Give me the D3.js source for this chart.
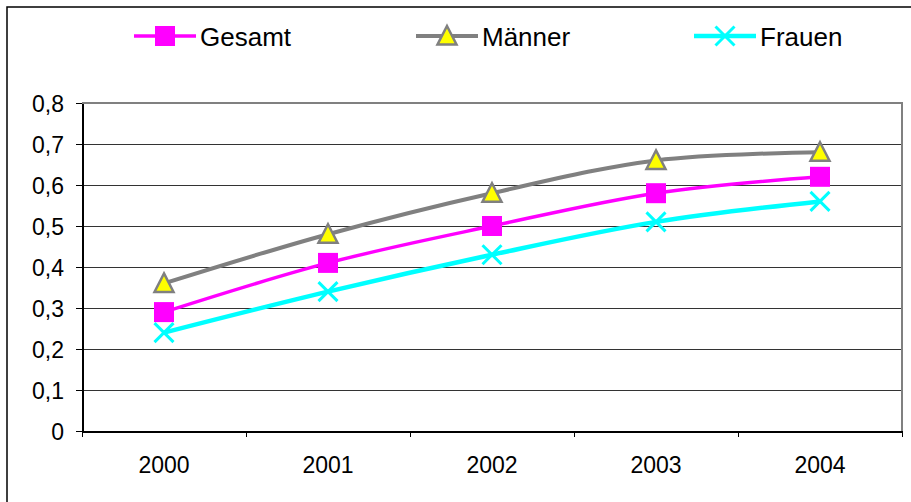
<!DOCTYPE html>
<html lang="de">
<head>
<meta charset="utf-8">
<title>Gesamt / Männer / Frauen 2000-2004</title>
<script src="https://cdnjs.cloudflare.com/ajax/libs/d3/7.8.5/d3.min.js"></script>
<style>
  body { margin: 0; background: #fff; }
  svg { display: block; font-family: 'Liberation Sans', Arial, sans-serif; }
  .grid line { stroke: #333; stroke-width: 1; shape-rendering: crispEdges; }
  .axis text { font-size: 23px; fill: #000; }
  .axis line, .axis path { stroke: #000; shape-rendering: crispEdges; }
  .legend text { font-size: 26px; fill: #000; }
</style>
</head>
<body>
<svg width="911" height="502"></svg>
<script>
// values
var years = ["2000", "2001", "2002", "2003", "2004"];
var gesamt = [0.29, 0.41, 0.50, 0.58, 0.62];
var maenner = [0.36, 0.48, 0.58, 0.66, 0.68];
var frauen = [0.24, 0.34, 0.43, 0.51, 0.56];
var yTicks = [0, 0.1, 0.2, 0.3, 0.4, 0.5, 0.6, 0.7, 0.8];

var series = [
  { name: "Gesamt", values: gesamt, color: "#ff00ff", width: 3.5, marker: "square" },
  { name: "Männer", values: maenner, color: "#808080", width: 4, marker: "triangle" },
  { name: "Frauen", values: frauen, color: "#00ffff", width: 4.5, marker: "cross" }
];

var svg = d3.select("svg");
// plot area (note: "top" is taken by window.top, so use other names)
var plotLeft = 82, plotRight = 902, plotTop = 103, plotBottom = 431;

// outer frame (right and bottom edges fall outside the picture)
svg.append("rect")
  .attr("x", 7).attr("y", 7)
  .attr("width", 920).attr("height", 520)
  .attr("fill", "none").attr("stroke", "#000").attr("stroke-width", 1.5);

var x = d3.scaleBand().domain(years).range([plotLeft, plotRight]).padding(0);
var xEdge = d3.scaleLinear().domain([0, years.length]).range([plotLeft, plotRight]);
var y = d3.scaleLinear().domain([0, 0.8]).range([plotBottom, plotTop]);

// gridlines
svg.append("g").attr("class", "grid")
  .selectAll("line")
  .data(yTicks.filter(function(d) { return d > 0 && d < 0.8; }))
  .enter().append("line")
    .attr("x1", plotLeft).attr("x2", plotRight)
    .attr("y1", function(d) { return y(d); })
    .attr("y2", function(d) { return y(d); });

// plot area top and right border
svg.append("path")
  .attr("d", "M" + plotLeft + "," + y(0.8) + "H" + plotRight + "V" + plotBottom)
  .attr("fill", "none").attr("stroke", "#808080").attr("stroke-width", 2);

// y axis
var yAxis = d3.axisLeft(y)
  .tickValues(yTicks)
  .tickSize(6)
  .tickSizeOuter(0)
  .tickPadding(12)
  .tickFormat(function(d) { return d === 0 ? "0" : d3.format(".1f")(d).replace(".", ","); });

svg.append("g").attr("class", "axis")
  .attr("transform", "translate(" + plotLeft + ",0)")
  .call(yAxis)
  .call(function(g) { g.select(".domain").attr("stroke-width", 2); })
  .call(function(g) { g.selectAll("text").attr("dy", "0.36em"); });

// x axis: ticks on category edges, labels in the middle
svg.append("g").attr("class", "axis")
  .attr("transform", "translate(0," + plotBottom + ")")
  .call(d3.axisBottom(xEdge).ticks(years.length).tickSize(6).tickSizeOuter(0).tickFormat(""))
  .call(function(g) { g.select(".domain").attr("stroke-width", 2); });

svg.append("g").attr("class", "axis")
  .selectAll("text")
  .data(years)
  .enter().append("text")
    .attr("x", function(d) { return x(d) + x.bandwidth() / 2; })
    .attr("y", 473)
    .attr("text-anchor", "middle")
    .text(function(d) { return d; });

var line = d3.line()
  .x(function(d, i) { return x(years[i]) + x.bandwidth() / 2; })
  .y(function(d) { return y(d); })
  .curve(d3.curveCatmullRom.alpha(0.5));

function drawMarker(g, s, cx, cy) {
  if (s.marker === "square") {
    g.append("rect")
      .attr("x", cx - 10).attr("y", cy - 10)
      .attr("width", 20).attr("height", 20)
      .attr("fill", s.color);
  } else if (s.marker === "triangle") {
    g.append("path")
      .attr("d", "M" + cx + "," + (cy - 10) + "L" + (cx + 9.5) + "," + (cy + 8.5) + "L" + (cx - 9.5) + "," + (cy + 8.5) + "Z")
      .attr("fill", "#ffff00").attr("stroke", s.color).attr("stroke-width", 2.5)
      .attr("stroke-linejoin", "miter");
  } else {
    g.append("path")
      .attr("d", "M" + (cx - 9.5) + "," + (cy - 9.5) + "L" + (cx + 9.5) + "," + (cy + 9.5) +
                 "M" + (cx + 9.5) + "," + (cy - 9.5) + "L" + (cx - 9.5) + "," + (cy + 9.5))
      .attr("stroke", s.color).attr("stroke-width", 3).attr("fill", "none");
  }
}

series.forEach(function(s) {
  svg.append("path")
    .datum(s.values)
    .attr("d", line)
    .attr("fill", "none")
    .attr("stroke", s.color)
    .attr("stroke-width", s.width);
});

series.forEach(function(s) {
  var g = svg.append("g");
  s.values.forEach(function(v, i) {
    drawMarker(g, s, x(years[i]) + x.bandwidth() / 2, y(v));
  });
});

// legend
var legendX = [134, 416, 694];
var legend = svg.append("g").attr("class", "legend");
series.forEach(function(s, i) {
  var lx = legendX[i], ly = 36;
  legend.append("line")
    .attr("x1", lx).attr("x2", lx + 62)
    .attr("y1", ly).attr("y2", ly)
    .attr("stroke", s.color).attr("stroke-width", s.width);
  drawMarker(legend, s, lx + 31, ly);
  legend.append("text")
    .attr("x", lx + 66)
    .attr("y", ly + 10)
    .text(s.name);
});
</script>
</body>
</html>
